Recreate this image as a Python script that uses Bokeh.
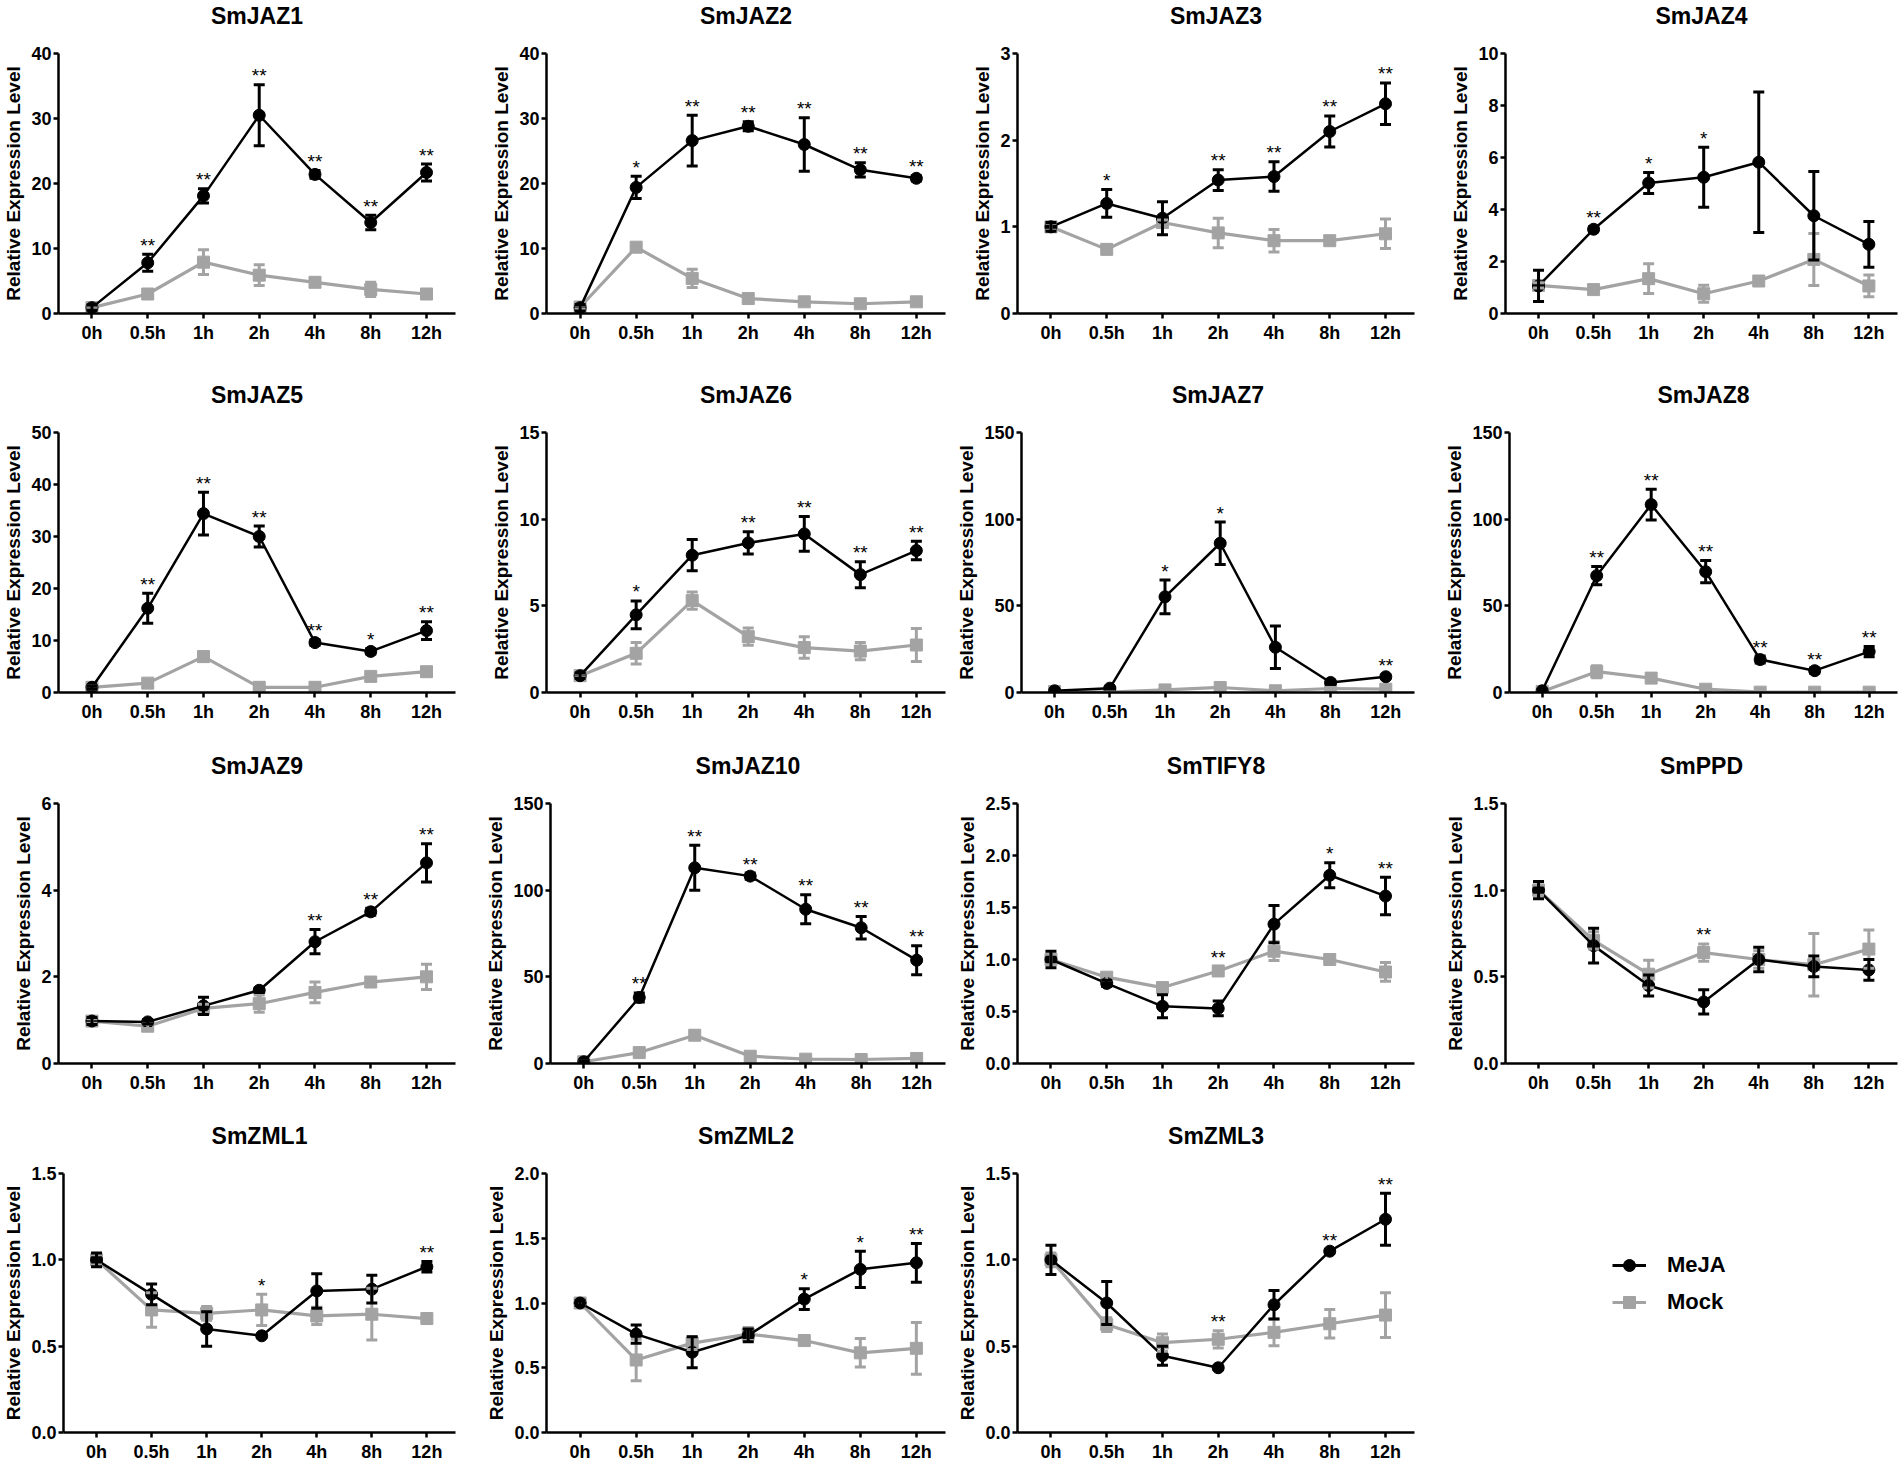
from bokeh.plotting import figure
from bokeh.layouts import column, row
from bokeh.models import (ColumnDataSource, Whisker, TeeHead, FixedTicker, Range1d,
                          Legend, LegendItem, PrintfTickFormatter, Title)
from bokeh.core.properties import value
from bokeh.embed import file_html
from bokeh.resources import INLINE

FONT = "Liberation Sans"
BLACK = "#000000"
GRAY = "#a3a3a3"

times = ["0h", "0.5h", "1h", "2h", "4h", "8h", "12h"]
ylabel = "Relative Expression Level"
series_names = ["MeJA", "Mock"]

# ---------------- data (mean, SD) ----------------
jaz1_meja = [0.9, 7.8, 18.1, 30.5, 21.4, 14.0, 21.7]
jaz1_meja_err = [0.4, 1.3, 1.1, 4.7, 0.6, 1.1, 1.3]
jaz1_mock = [0.9, 3.0, 7.9, 5.9, 4.8, 3.7, 3.0]
jaz1_mock_err = [0.2, 0.4, 1.9, 1.6, 0.4, 1.1, 0.7]
jaz1_stars = ["", "**", "**", "**", "**", "**", "**"]

jaz2_meja = [0.9, 19.4, 26.6, 28.8, 26.0, 22.1, 20.8]
jaz2_meja_err = [0.5, 1.7, 3.9, 0.7, 4.1, 1.1, 0.4]
jaz2_mock = [1.0, 10.2, 5.4, 2.3, 1.8, 1.5, 1.8]
jaz2_mock_err = [0.3, 0.4, 1.4, 0.4, 0.4, 0.4, 0.4]
jaz2_stars = ["", "*", "**", "**", "**", "**", "**"]

jaz3_meja = [1.0, 1.27, 1.10, 1.54, 1.58, 2.10, 2.42]
jaz3_meja_err = [0.05, 0.16, 0.19, 0.12, 0.17, 0.18, 0.24]
jaz3_mock = [1.0, 0.74, 1.05, 0.93, 0.84, 0.84, 0.92]
jaz3_mock_err = [0.04, 0.03, 0.03, 0.17, 0.13, 0.04, 0.17]
jaz3_stars = ["", "*", "", "**", "**", "**", "**"]

jaz4_meja = [1.06, 3.24, 5.02, 5.24, 5.82, 3.76, 2.66]
jaz4_meja_err = [0.6, 0.1, 0.4, 1.15, 2.7, 1.7, 0.88]
jaz4_mock = [1.08, 0.92, 1.34, 0.76, 1.25, 2.08, 1.06]
jaz4_mock_err = [0.1, 0.15, 0.57, 0.33, 0.15, 1.0, 0.42]
jaz4_stars = ["", "**", "*", "*", "", "", ""]

jaz5_meja = [1.0, 16.2, 34.4, 30.0, 9.6, 7.9, 11.9]
jaz5_meja_err = [0.3, 2.9, 4.1, 2.0, 0.5, 0.5, 1.7]
jaz5_mock = [1.0, 1.8, 6.9, 1.0, 1.0, 3.1, 4.0]
jaz5_mock_err = [0.3, 0.4, 0.9, 0.3, 0.3, 0.7, 0.8]
jaz5_stars = ["", "**", "**", "**", "**", "*", "**"]

jaz6_meja = [0.97, 4.48, 7.92, 8.63, 9.15, 6.8, 8.19]
jaz6_meja_err = [0.15, 0.8, 0.9, 0.64, 1.0, 0.75, 0.53]
jaz6_mock = [0.97, 2.26, 5.3, 3.22, 2.59, 2.39, 2.74]
jaz6_mock_err = [0.1, 0.62, 0.5, 0.5, 0.62, 0.5, 0.95]
jaz6_stars = ["", "*", "", "**", "**", "**", "**"]

jaz7_meja = [1.0, 2.5, 55.2, 86.1, 26.1, 5.8, 9.1]
jaz7_meja_err = [0.5, 0.5, 9.7, 12.2, 12.3, 1.0, 1.0]
jaz7_mock = [0.6, 0.3, 1.5, 2.9, 1.0, 2.3, 1.9]
jaz7_mock_err = [0.3, 0.3, 0.8, 1.0, 0.5, 0.8, 0.8]
jaz7_stars = ["", "", "*", "*", "", "", "**"]

jaz8_meja = [1.0, 67.4, 108.4, 69.7, 19.0, 12.6, 23.6]
jaz8_meja_err = [0.5, 5.3, 8.9, 6.4, 2.0, 1.5, 3.0]
jaz8_mock = [0.6, 12.0, 8.3, 1.9, 0.2, 0.2, 0.2]
jaz8_mock_err = [0.3, 3.5, 1.5, 0.5, 0.1, 0.1, 0.1]
jaz8_stars = ["", "**", "**", "**", "**", "**", "**"]

jaz9_meja = [0.98, 0.96, 1.33, 1.69, 2.81, 3.50, 4.63]
jaz9_meja_err = [0.08, 0.05, 0.2, 0.05, 0.28, 0.08, 0.44]
jaz9_mock = [0.98, 0.86, 1.27, 1.38, 1.64, 1.88, 2.0]
jaz9_mock_err = [0.05, 0.05, 0.1, 0.2, 0.24, 0.08, 0.29]
jaz9_stars = ["", "", "", "", "**", "**", "**"]

jaz10_meja = [1.0, 38.1, 112.9, 108.1, 89.0, 78.3, 59.6]
jaz10_meja_err = [0.5, 2.6, 13.0, 1.8, 8.4, 6.5, 8.4]
jaz10_mock = [1.0, 6.3, 16.3, 4.2, 2.5, 2.3, 2.9]
jaz10_mock_err = [0.3, 1.0, 2.5, 1.5, 1.0, 0.5, 0.8]
jaz10_stars = ["", "**", "**", "**", "**", "**", "**"]

tify8_meja = [1.0, 0.77, 0.55, 0.53, 1.34, 1.81, 1.61]
tify8_meja_err = [0.08, 0.03, 0.11, 0.07, 0.18, 0.12, 0.18]
tify8_mock = [1.0, 0.83, 0.73, 0.89, 1.08, 1.0, 0.88]
tify8_mock_err = [0.05, 0.03, 0.04, 0.04, 0.09, 0.02, 0.09]
tify8_stars = ["", "", "", "**", "", "*", "**"]

ppd_meja = [1.0, 0.68, 0.45, 0.355, 0.60, 0.56, 0.54]
ppd_meja_err = [0.05, 0.1, 0.06, 0.07, 0.07, 0.06, 0.06]
ppd_mock = [1.0, 0.71, 0.515, 0.64, 0.60, 0.57, 0.66]
ppd_mock_err = [0.03, 0.05, 0.08, 0.05, 0.05, 0.18, 0.11]
ppd_stars = ["", "", "", "**", "", "", ""]

zml1_meja = [1.0, 0.80, 0.60, 0.56, 0.82, 0.83, 0.96]
zml1_meja_err = [0.04, 0.06, 0.1, 0.01, 0.1, 0.08, 0.03]
zml1_mock = [1.0, 0.71, 0.69, 0.71, 0.675, 0.685, 0.66]
zml1_mock_err = [0.03, 0.1, 0.04, 0.09, 0.05, 0.15, 0.02]
zml1_stars = ["", "", "", "*", "", "", "**"]

zml2_meja = [1.0, 0.76, 0.62, 0.75, 1.03, 1.26, 1.31]
zml2_meja_err = [0.02, 0.07, 0.12, 0.05, 0.08, 0.14, 0.15]
zml2_mock = [1.0, 0.56, 0.69, 0.76, 0.71, 0.615, 0.65]
zml2_mock_err = [0.02, 0.16, 0.05, 0.05, 0.02, 0.11, 0.2]
zml2_stars = ["", "", "", "", "*", "*", "**"]

zml3_meja = [1.0, 0.75, 0.445, 0.375, 0.74, 1.05, 1.235]
zml3_meja_err = [0.085, 0.125, 0.055, 0.01, 0.083, 0.01, 0.15]
zml3_mock = [1.0, 0.625, 0.52, 0.54, 0.58, 0.63, 0.68]
zml3_mock_err = [0.04, 0.04, 0.05, 0.05, 0.077, 0.083, 0.13]
zml3_stars = ["", "", "", "**", "", "**", "**"]

# panel title, data, y max, y step, decimals
panels = [
    ("SmJAZ1", jaz1_meja, jaz1_meja_err, jaz1_mock, jaz1_mock_err, jaz1_stars, 40, 10, False),
    ("SmJAZ2", jaz2_meja, jaz2_meja_err, jaz2_mock, jaz2_mock_err, jaz2_stars, 40, 10, False),
    ("SmJAZ3", jaz3_meja, jaz3_meja_err, jaz3_mock, jaz3_mock_err, jaz3_stars, 3, 1, False),
    ("SmJAZ4", jaz4_meja, jaz4_meja_err, jaz4_mock, jaz4_mock_err, jaz4_stars, 10, 2, False),
    ("SmJAZ5", jaz5_meja, jaz5_meja_err, jaz5_mock, jaz5_mock_err, jaz5_stars, 50, 10, False),
    ("SmJAZ6", jaz6_meja, jaz6_meja_err, jaz6_mock, jaz6_mock_err, jaz6_stars, 15, 5, False),
    ("SmJAZ7", jaz7_meja, jaz7_meja_err, jaz7_mock, jaz7_mock_err, jaz7_stars, 150, 50, False),
    ("SmJAZ8", jaz8_meja, jaz8_meja_err, jaz8_mock, jaz8_mock_err, jaz8_stars, 150, 50, False),
    ("SmJAZ9", jaz9_meja, jaz9_meja_err, jaz9_mock, jaz9_mock_err, jaz9_stars, 6, 2, False),
    ("SmJAZ10", jaz10_meja, jaz10_meja_err, jaz10_mock, jaz10_mock_err, jaz10_stars, 150, 50, False),
    ("SmTIFY8", tify8_meja, tify8_meja_err, tify8_mock, tify8_mock_err, tify8_stars, 2.5, 0.5, True),
    ("SmPPD", ppd_meja, ppd_meja_err, ppd_mock, ppd_mock_err, ppd_stars, 1.5, 0.5, True),
    ("SmZML1", zml1_meja, zml1_meja_err, zml1_mock, zml1_mock_err, zml1_stars, 1.5, 0.5, True),
    ("SmZML2", zml2_meja, zml2_meja_err, zml2_mock, zml2_mock_err, zml2_stars, 2.0, 0.5, True),
    ("SmZML3", zml3_meja, zml3_meja_err, zml3_mock, zml3_mock_err, zml3_stars, 1.5, 0.5, True),
]

# layout geometry (pixels)
col_widths = [482, 471, 488, 459]
col_left = [58, 64, 64, 64]
col_right = [27, 8, 27, 3]
row_heights = [379, 371, 370, 344]
TOP = 53
FRAME_H = 260
X_START, X_END = -0.6, 6.52


def style_axis(ax, standoff):
    ax.axis_line_width = 2.5
    ax.axis_line_color = BLACK
    ax.major_tick_line_width = 2.5
    ax.major_tick_line_color = BLACK
    ax.major_tick_out = 5
    ax.major_tick_in = 0
    ax.minor_tick_out = 0
    ax.minor_tick_in = 0
    ax.major_label_text_font = FONT
    ax.major_label_text_font_size = "18px"
    ax.major_label_text_font_style = "bold"
    ax.major_label_text_color = BLACK
    ax.major_label_standoff = standoff


def make_panel(spec, width, height, left, right):
    name, meja, meja_err, mock, mock_err, stars, ymax, ystep, decimals = spec
    bottom = height - TOP - FRAME_H
    p = figure(width=width, height=height, title=None,
               x_range=Range1d(X_START, X_END), y_range=Range1d(0, ymax),
               output_backend="svg", toolbar_location=None,
               min_border_left=left, min_border_right=right,
               min_border_top=TOP, min_border_bottom=bottom)
    p.outline_line_color = None
    p.xgrid.visible = False
    p.ygrid.visible = False
    p.background_fill_color = "white"
    p.border_fill_color = "white"

    xs = list(range(len(times)))
    tops = [max(a + b, c + d) for a, b, c, d in zip(meja, meja_err, mock, mock_err)]
    src = ColumnDataSource(dict(
        x=xs,
        meja=meja, meja_up=[a + b for a, b in zip(meja, meja_err)],
        meja_lo=[a - b for a, b in zip(meja, meja_err)],
        mock=mock, mock_up=[a + b for a, b in zip(mock, mock_err)],
        mock_lo=[a - b for a, b in zip(mock, mock_err)],
        top=tops, stars=stars))

    for key, color, marker, lw in (("mock", GRAY, "square", 3.2), ("meja", BLACK, "circle", 2.5)):
        w = Whisker(source=src, base="x", upper=key + "_up", lower=key + "_lo",
                    dimension="height", line_color=color, line_width=3,
                    upper_head=TeeHead(size=11, line_color=color, line_width=3),
                    lower_head=TeeHead(size=11, line_color=color, line_width=3),
                    level="glyph")
        p.add_layout(w)
        p.line("x", key, source=src, line_color=color, line_width=lw)
        p.scatter("x", key, source=src, marker=marker, size=12,
                  fill_color=color, line_color=color)

    p.text("x", "top", text="stars", source=src, text_align="center",
           text_baseline="alphabetic", y_offset=-9,
           text_font=value(FONT), text_font_size="19px", text_color=BLACK)

    xaxis = p.below[0]
    yaxis = p.left[0]
    xaxis.ticker = FixedTicker(ticks=xs)
    xaxis.major_label_overrides = {i: t for i, t in enumerate(times)}
    n = int(round(ymax / ystep))
    yaxis.ticker = FixedTicker(ticks=[round(i * ystep, 3) for i in range(n + 1)])
    yaxis.formatter = PrintfTickFormatter(format="%.1f" if decimals else "%d")
    style_axis(xaxis, 4)
    style_axis(yaxis, 2)
    yaxis.axis_label = ylabel
    yaxis.axis_label_text_font = FONT
    yaxis.axis_label_text_font_size = "19px"
    yaxis.axis_label_text_font_style = "bold"
    yaxis.axis_label_text_color = BLACK
    yaxis.axis_label_standoff = 4

    # blank band between the plot area and the title, so the title sits near the top
    p.add_layout(Title(text=" ", standoff=11, text_font=FONT, text_font_size="10px"), "above")
    p.add_layout(Title(text=name, align="center", standoff=1,
                       text_font=FONT, text_font_size="23px", text_font_style="bold",
                       text_color=BLACK), "above")
    return p


def make_legend_cell(width, height):
    bottom = height - TOP - FRAME_H
    lf = figure(width=width, height=height, x_range=Range1d(0, 1), y_range=Range1d(0, 1),
                output_backend="svg", toolbar_location=None,
                x_axis_location=None, y_axis_location=None,
                min_border_left=0, min_border_right=0, min_border_top=TOP,
                min_border_bottom=bottom)
    lf.outline_line_color = None
    lf.xgrid.visible = False
    lf.ygrid.visible = False
    # one off-screen point so the legend draws its glyphs
    hidden = ColumnDataSource(dict(x=[-5], y=[-5]))
    l1 = lf.line("x", "y", source=hidden, line_color=BLACK, line_width=3)
    s1 = lf.scatter("x", "y", source=hidden, marker="circle", fill_color=BLACK, line_color=BLACK)
    l2 = lf.line("x", "y", source=hidden, line_color=GRAY, line_width=3)
    s2 = lf.scatter("x", "y", source=hidden, marker="square", fill_color=GRAY, line_color=GRAY)
    leg = Legend(items=[LegendItem(label=series_names[0], renderers=[l1, s1]),
                        LegendItem(label=series_names[1], renderers=[l2, s2])],
                 location=(171, 115), padding=0, margin=0, spacing=7,
                 glyph_width=34, glyph_height=30, label_height=30, label_standoff=21,
                 label_text_font=FONT, label_text_font_size="22px",
                 label_text_font_style="bold", label_text_color=BLACK,
                 border_line_color=None, background_fill_alpha=0)
    lf.add_layout(leg)
    return lf


rows = []
idx = 0
for r in range(4):
    figs = []
    for c in range(4):
        if idx < len(panels):
            figs.append(make_panel(panels[idx], col_widths[c], row_heights[r], col_left[c], col_right[c]))
            idx += 1
        else:
            figs.append(make_legend_cell(col_widths[c], row_heights[r]))
    rows.append(row(*figs))

layout = column(*rows)
open("out.html", "w").write(file_html(layout, INLINE))
